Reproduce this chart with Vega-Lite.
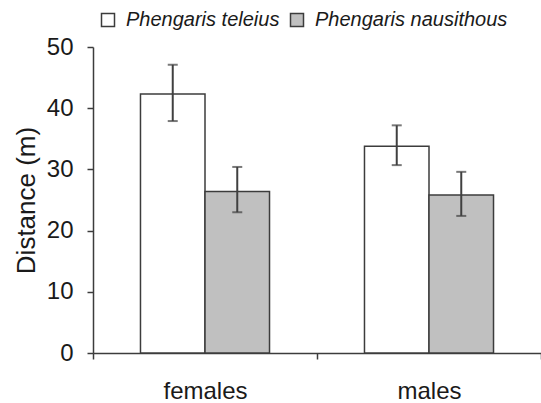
{
  "$schema": "https://vega.github.io/schema/vega-lite/v6.json",
  "width": 448,
  "height": 306,
  "autosize": {"type": "none"},
  "padding": {"left": 93, "top": 47, "right": 0, "bottom": 50},
  "config": {
    "view": {"stroke": null},
    "font": "Liberation Sans",
    "axis": {
      "domainColor": "#3c3c3c",
      "domainWidth": 1.5,
      "ticks": true,
      "tickColor": "#3c3c3c",
      "tickWidth": 1.5,
      "tickSize": 6,
      "tickOpacity": 1,
      "labelColor": "#1a1a1a",
      "labelFont": "Liberation Sans",
      "labelFontSize": 24,
      "titleFont": "Liberation Sans",
      "titleFontSize": 26,
      "titleFontWeight": "normal",
      "titleColor": "#1a1a1a",
      "grid": false
    }
  },
  "data": {
    "values": [
      {"sex": "females", "species": "Phengaris teleius", "mean": 42.3, "lo": 37.9, "hi": 47.1},
      {"sex": "females", "species": "Phengaris nausithous", "mean": 26.4, "lo": 23.0, "hi": 30.4},
      {"sex": "males", "species": "Phengaris teleius", "mean": 33.8, "lo": 30.7, "hi": 37.2},
      {"sex": "males", "species": "Phengaris nausithous", "mean": 25.8, "lo": 22.4, "hi": 29.6}
    ]
  },
  "encoding": {
    "x": {
      "field": "sex",
      "type": "nominal",
      "sort": ["females", "males"],
      "scale": {"paddingInner": 0, "paddingOuter": 0},
      "axis": {"title": null, "labelAngle": 0, "ticks": true, "tickBand": "extent", "labelPadding": 20}
    },
    "xOffset": {
      "field": "species",
      "type": "nominal",
      "sort": ["Phengaris teleius", "Phengaris nausithous"],
      "scale": {"paddingInner": 0, "paddingOuter": 0.736}
    }
  },
  "layer": [
    {
      "mark": {"type": "bar", "stroke": "#3c3c3c", "strokeWidth": 1.5},
      "encoding": {
        "y": {
          "field": "mean",
          "type": "quantitative",
          "scale": {"domain": [0, 50], "nice": false},
          "axis": {"title": "Distance (m)", "ticks": true, "values": [0, 10, 20, 30, 40, 50], "labelPadding": 14, "titlePadding": 7}
        },
        "fill": {
          "field": "species",
          "type": "nominal",
          "sort": ["Phengaris teleius", "Phengaris nausithous"],
          "scale": {"range": ["#ffffff", "#c0c0c0"]},
          "legend": {
            "title": null,
            "orient": "none",
            "direction": "horizontal",
            "legendX": 5,
            "legendY": -37,
            "padding": 0,
            "offset": 0,
            "symbolType": "square",
            "symbolSize": 169,
            "symbolStrokeColor": "#3c3c3c",
            "symbolStrokeWidth": 1.5,
            "labelFont": "Liberation Sans",
            "labelFontSize": 20,
            "labelFontStyle": "italic",
            "labelColor": "#1a1a1a",
            "labelOffset": 8,
            "columnPadding": 7,
            "labelLimit": 300
          }
        }
      }
    },
    {
      "mark": {"type": "rule", "color": "#404040", "strokeWidth": 2},
      "encoding": {
        "y": {"field": "lo", "type": "quantitative", "title": "Distance (m)"},
        "y2": {"field": "hi"}
      }
    },
    {
      "mark": {"type": "tick", "orient": "horizontal", "size": 10, "thickness": 2, "color": "#404040"},
      "encoding": {
        "y": {"field": "lo", "type": "quantitative", "title": "Distance (m)"}
      }
    },
    {
      "mark": {"type": "tick", "orient": "horizontal", "size": 10, "thickness": 2, "color": "#404040"},
      "encoding": {
        "y": {"field": "hi", "type": "quantitative", "title": "Distance (m)"}
      }
    }
  ]
}
